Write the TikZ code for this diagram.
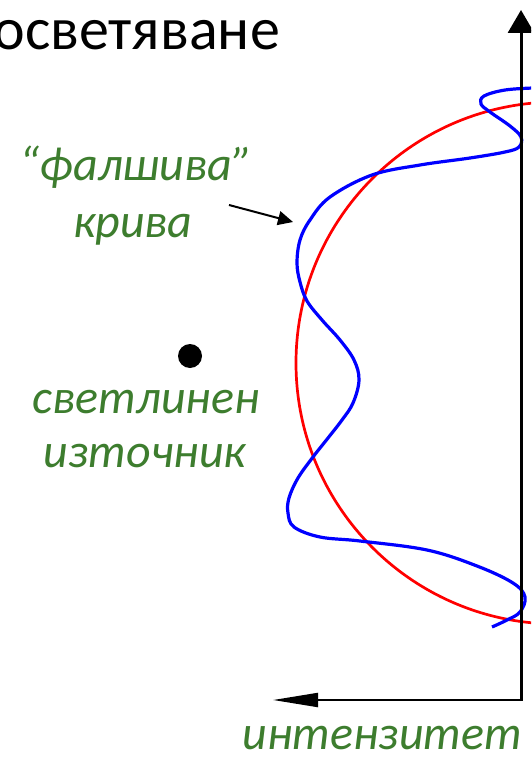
\documentclass[tikz,border=0pt]{standalone}
\usepackage{fontspec}
\setmainfont{Carlito}
\usetikzlibrary{arrows.meta}
\definecolor{tgreen}{RGB}{61,125,46}
\definecolor{cblue}{RGB}{0,0,255}
\definecolor{cred}{RGB}{255,0,0}
\begin{document}
\begin{tikzpicture}[x=1pt,y=-1pt,
  lbl/.style={text=tgreen, font=\fontsize{48}{54}\selectfont\itshape, inner sep=0pt, anchor=base},
  axis/.style={black, line width=3pt},
  redcurve/.style={cred, line width=2.7pt},
  bluecurve/.style={cblue, line width=3.2pt}]
\useasboundingbox (0,0) rectangle (531,757);
\clip (0,0) rectangle (531,757);
\fill[white] (0,0) rectangle (531,757);
% title
\node[anchor=base east, font=\fontsize{60}{66}\selectfont, inner sep=0pt] (title) at (280,50) {осветяване};
% labels
\node[lbl] (false1) at (136,180) {“фалшива”};
\node[lbl] (false2) at (133,237) {крива};
\node[lbl] (src1) at (146,413) {светлинен};
\node[lbl] (src2) at (145,467) {източник};
\node[lbl, anchor=base east] (intens) at (523,749) {интензитет};
% light source
\node[circle, fill=black, minimum size=24pt, inner sep=0pt] (src) at (190,356) {};
% curves
\draw[redcurve] (557,363) circle[radius=261pt];
\draw[bluecurve] plot[smooth, tension=0.6] coordinates {
 (533,88) (505,90) (484,96) (481,104) (490,112) (510,126) (521,137) (519,147) (505,152)
 (470,158) (420,165) (372,175) (330,197) (310,220) (300,240) (297,263) (300,282)
 (307,301) (322,320) (340,340) (354,360) (359,380) (353,403) (342,420) (328,438)
 (313,457) (298,478) (289,498) (288,513)
 (294,527) (320,537) (360,541) (427,550) (477,566) (513,583) (525,597) (520,612)
 (507,620) (492,627)};
% axes
\coordinate (O) at (521,701);
\coordinate (ytop) at (521,10);
\coordinate (xend) at (273,700);
\draw[axis, -{Triangle[length=23pt,width=26pt]}] (O) -- (ytop);
\draw[black, line width=2pt, -{Triangle[length=45pt,width=14pt]}] (522,700) -- (xend);
% pointer to false curve
\coordinate (fcs) at (229,205);
\coordinate (fce) at (293,222);
\draw[black, line width=2pt, -{Triangle[length=15pt,width=14pt]}] (fcs) -- (fce);
\end{tikzpicture}
\end{document}
